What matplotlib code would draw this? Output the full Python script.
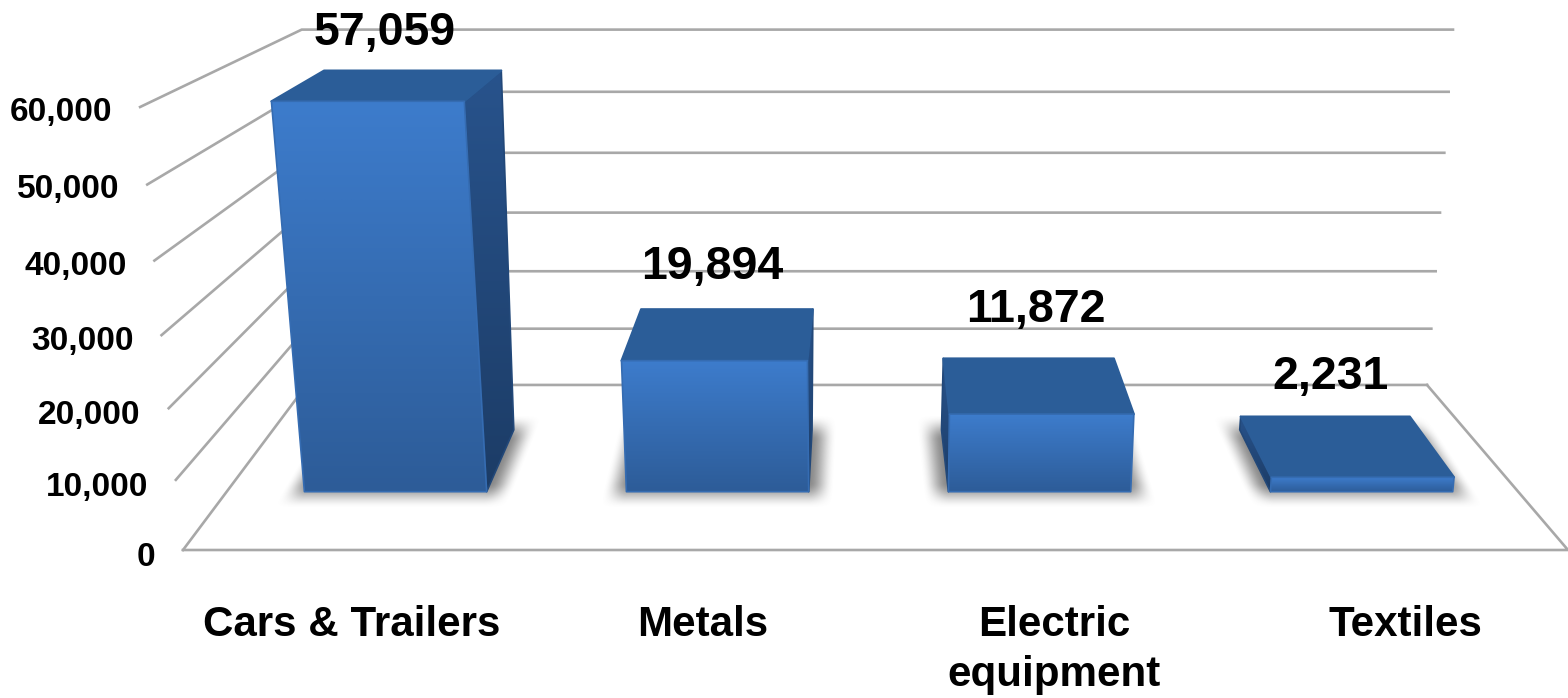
import matplotlib
matplotlib.use('Agg')
import matplotlib.pyplot as plt
from matplotlib.patches import Polygon
import numpy as np

# Data
categories = ['Cars & Trailers', 'Metals', 'Electric\nequipment', 'Textiles']
values = [57059, 19894, 11872, 2231]
value_labels = ['57,059', '19,894', '11,872', '2,231']
y_ticks = [0, 10000, 20000, 30000, 40000, 50000, 60000]
y_tick_labels = ['0', '10,000', '20,000', '30,000', '40,000', '50,000', '60,000']

# Layout of the fake 3D box, in output pixels
W, H = 1568, 698
FLOOR_LEFT, FLOOR_RIGHT = 183, 1568
BACK_RIGHT_INSET = 12
HORIZON = -347
FRONT_Y = 550
FRONT_HEIGHT = 443  # pixels from 0 to 60,000 on the front edge
V_MAX = 60000
S_BACK = 0.816
S_BAR_FRONT, S_BAR_BACK = 0.935, 0.866
CAT_W = 344.4
BAR_W = 0.566
BAR_SHIFT = 7.5

label_dx = [-28, -15, 7, 5]
label_dy = [-38, -42, -48, -40]
tick_dy = [7, 8, 7, 6, 6, 5, 6]
label_font = 'Liberation Sans'


def project(x, v, s):
    """world x (px on the front floor edge), value, depth scale -> pixel position"""
    t = max((1 - s) / (1 - S_BACK), 0)
    t4 = t ** 4
    c = 875 - 389 * t4
    k = (0.062 - 0.0344 * t4) / V_MAX
    u = v / V_MAX
    height = FRONT_HEIGHT * u * (0.94 + 0.06 * u) * (1 - 0.017 * t)
    mid = 875 - 20 * t
    px = mid + (x - mid) * s
    py = HORIZON + (FRONT_Y - HORIZON) * s - height * s
    px = c + (px - c) * (1 + k * v)
    return px, py


def gradient_face(ax, pts, c_top, c_bottom, zorder):
    pts = np.array(pts)
    ymin, ymax = pts[:, 1].min(), pts[:, 1].max()
    c_top = np.array(matplotlib.colors.to_rgb(c_top))
    c_bottom = np.array(matplotlib.colors.to_rgb(c_bottom))
    f = np.linspace(0, 1, 128)[:, None]
    img = (c_top * (1 - f) + c_bottom * f)[:, None, :]
    im = ax.imshow(img, extent=(pts[:, 0].min(), pts[:, 0].max(), ymax, ymin),
                   aspect='auto', zorder=zorder, interpolation='bilinear')
    poly = Polygon(pts, closed=True, fc='none', ec='none', transform=ax.transData)
    ax.add_patch(poly)
    im.set_clip_path(poly)
    # rounded look on the edges
    ax.add_patch(Polygon(pts, closed=True, fill=False, ec=c_bottom * 0.5 + c_top * 0.5,
                         lw=1.2, joinstyle='round', zorder=zorder))


def soft_shadow(ax, front_l, front_r, back_l, back_r, zorder):
    # trapezoid on the floor with blurred edges
    blur = 13.0
    x0 = min(front_l[0], back_l[0]) - 40
    x1 = max(front_r[0], back_r[0]) + 40
    y0, y1 = back_l[1] - 30, front_l[1] + 30
    xx, yy = np.meshgrid(np.arange(x0, x1), np.arange(y0, y1))
    f = (yy - back_l[1]) / (front_l[1] - back_l[1])
    xl = back_l[0] + (front_l[0] - back_l[0]) * f
    xr = back_r[0] + (front_r[0] - back_r[0]) * f

    def edge(d):
        e = np.clip(d / blur * 0.5 + 0.5, 0, 1)
        return e * e * (3 - 2 * e)

    a = edge(xx - xl) * edge(xr - xx) * edge(yy - back_l[1]) * edge(front_l[1] - yy)
    img = np.zeros(xx.shape + (4,))
    img[..., :3] = 0.42
    img[..., 3] = a * 0.8
    ax.imshow(img, extent=(x0, x1, y1, y0), aspect='auto', zorder=zorder, interpolation='bilinear')


fig = plt.figure(figsize=(W / 100, H / 100), dpi=100)
ax = fig.add_axes([0, 0, 1, 1])
ax.axis('off')

grid_color = '#a8a8a8'
back_right = FLOOR_RIGHT - BACK_RIGHT_INSET

# floor
floor = [project(FLOOR_LEFT, 0, 1), project(FLOOR_RIGHT, 0, 1), project(back_right, 0, S_BACK)]
xs, ys = zip(*floor)
ax.plot(xs, ys, color=grid_color, lw=1.9, zorder=1)

# walls
for i, v in enumerate(y_ticks):
    p0 = project(FLOOR_LEFT, v, 1)
    p1 = project(FLOOR_LEFT, v, S_BACK)
    p2 = project(back_right, v, S_BACK)
    ax.plot([p0[0], p1[0], p2[0]], [p0[1], p1[1], p2[1]], color=grid_color, lw=1.9, zorder=1)
    ax.text(p0[0] - 28, p0[1] + tick_dy[i], y_tick_labels[i], ha='right', va='center',
            fontsize=24, fontweight='bold', family=label_font, zorder=6)

# bars
for i, v in enumerate(values):
    x0 = FLOOR_LEFT + BAR_SHIFT + CAT_W * (i + 0.5 - BAR_W / 2)
    x1 = FLOOR_LEFT + BAR_SHIFT + CAT_W * (i + 0.5 + BAR_W / 2)

    fbl, fbr = project(x0, 0, S_BAR_FRONT), project(x1, 0, S_BAR_FRONT)
    ftl, ftr = project(x0, v, S_BAR_FRONT), project(x1, v, S_BAR_FRONT)
    bbl, bbr = project(x0, 0, S_BAR_BACK), project(x1, 0, S_BAR_BACK)
    btl, btr = project(x0, v, S_BAR_BACK), project(x1, v, S_BAR_BACK)

    # soft shadow on the floor
    soft_shadow(ax, (fbl[0] - 12, fbl[1] + 3), (fbr[0] + 12, fbr[1] + 3),
                (bbl[0] - 12, bbl[1] - 3), (bbr[0] + 12, bbr[1] - 3), 2)

    if bbr[0] > fbr[0]:
        gradient_face(ax, [fbr, bbr, btr, ftr], '#28538c', '#1c3c66', 3)
    if bbl[0] < fbl[0]:
        gradient_face(ax, [fbl, bbl, btl, ftl], '#28538c', '#1c3c66', 3)
    ax.add_patch(Polygon([ftl, ftr, btr, btl], closed=True, fc='#2b5d98', ec='#2b5d98',
                         lw=1.5, joinstyle='round', zorder=4))
    gradient_face(ax, [fbl, fbr, ftr, ftl], '#3d7ccc', '#2d5c98', 5)

    # value above the bar
    ax.text((btl[0] + btr[0]) / 2 + label_dx[i], btl[1] + label_dy[i], value_labels[i],
            ha='center', va='center', fontsize=33.5, fontweight='bold',
            family=label_font, zorder=6)

    # category below the floor
    lx = project(FLOOR_LEFT + CAT_W * (i + 0.5), 0, 1.02)[0] + 7
    ax.text(lx, 605, categories[i], ha='center', va='top', fontsize=30.3, fontweight='bold',
            family=label_font, linespacing=1.33, zorder=6)

ax.set_xlim(0, W)
ax.set_ylim(H, 0)
fig.savefig('out.png', dpi=100, facecolor='white')
plt.close()
